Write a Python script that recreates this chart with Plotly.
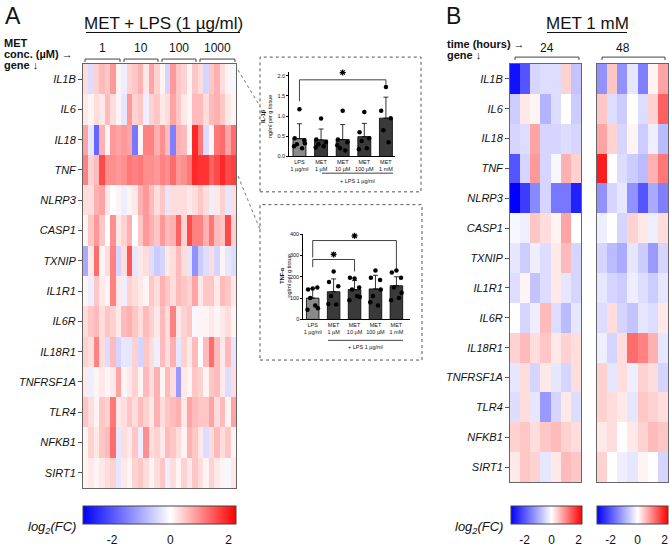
import plotly.graph_objects as go

W, H = 670, 548
def X(px): return px / W
def Y(py): return 1 - py / H

genes = ["IL1B", "IL6", "IL18", "TNF", "NLRP3", "CASP1", "TXNIP", "IL1R1",
         "IL6R", "IL18R1", "TNFRSF1A", "TLR4", "NFKB1", "SIRT1"]
conc_groups = ["1", "10", "100", "1000"]
time_groups = ["24", "48"]

# Panel A: log2(FC), 14 genes x 28 samples (7 per MET concentration)
A_IL1B = [0.3,-0.4,0.4,0.6,0.5,0.9,0.1,-0.2,0.4,0.5,0.7,0.2,0.8,0.4,0.1,-0.5,0.9,0.5,0.4,0.1,0.5,0.3,-0.5,0.5,0.7,0.3,0.1,-0.1]
A_IL6 = [0.2,0.1,0.3,0.2,0.6,0.3,0.1,-0.3,0.9,0.4,0.5,-0.2,0.4,0.5,0.2,0.3,0.8,0.5,0.2,0.1,0.6,0.6,0.3,0.6,0.7,0.5,0.2,0.1]
A_IL18 = [0.8,-0.3,-1.8,0.7,0.1,0.9,0.8,0.9,0.8,-1.6,0.1,1.1,1.1,0.7,1.0,0.6,-1.5,0.7,0.6,0.1,1.9,1.2,-0.4,0.1,1.2,1.3,0.8,1.3]
A_TNF = [1.1,0.4,0.6,1.6,1.0,1.0,0.9,1.0,1.2,1.1,1.2,1.0,1.0,0.9,1.1,1.0,1.3,0.9,1.0,1.2,1.9,1.8,1.8,1.4,1.6,1.9,1.6,1.7]
A_NLRP3 = [0.3,0.3,0.7,0.8,0.2,0.0,0.1,-0.2,0.1,0.2,0.7,0.9,0.6,0.3,0.5,-0.3,0.3,0.3,0.3,0.2,0.3,0.5,0.3,-0.2,0.2,0.4,-0.3,0.3]
A_CASP1 = [0.1,0.5,0.9,0.5,0.0,1.0,0.2,0.4,0.7,0.0,0.5,0.9,0.7,0.5,0.9,0.6,0.7,1.4,0.4,1.6,1.1,1.1,0.7,1.2,0.6,0.5,1.6,0.4]
A_TXNIP = [-1.0,0.2,1.3,0.1,0.3,1.1,-0.5,0.3,1.5,-0.3,0.2,0.3,-0.4,-0.6,-0.5,0.2,0.3,0.6,0.3,-0.3,-1.3,-0.6,-0.4,0.3,-0.5,0.1,-0.3,-0.4]
A_IL1R1 = [0.1,-0.2,0.5,0.2,0.1,1.1,0.2,-0.2,0.4,0.3,0.2,0.1,0.5,0.3,0.7,0.5,0.3,0.6,0.5,0.4,0.8,0.2,0.5,0.5,0.2,0.6,0.5,0.2]
A_IL6R = [0.3,0.5,0.6,0.3,0.5,0.4,0.2,0.6,0.7,0.5,0.3,0.6,0.4,0.2,0.6,0.3,1.1,0.2,0.4,0.5,-0.1,0.1,0.1,0.2,0.1,0.2,0.3,0.1]
A_IL18R1 = [0.4,0.3,1.1,0.3,-0.4,0.6,-0.5,-0.3,-0.3,0.4,-0.5,0.5,0.3,-0.2,0.6,0.3,0.7,-0.3,0.4,0.2,0.6,0.0,0.6,1.3,0.6,0.2,0.6,-0.3]
A_TNFRSF1A = [0.2,-0.2,0.1,0.2,0.1,0.2,0.8,0.1,0.2,0.4,0.1,0.6,0.3,0.7,0.1,0.6,0.3,-1.2,0.2,0.1,0.5,0.4,0.1,0.5,0.6,0.2,-0.4,0.3]
A_TLR4 = [0.5,0.3,0.1,0.5,0.4,1.2,0.2,0.3,0.5,0.3,0.6,0.4,0.2,0.7,0.3,0.5,0.6,0.7,0.2,0.8,0.6,0.5,0.5,0.8,0.3,0.6,0.1,0.8]
A_NFKB1 = [0.1,0.4,0.2,0.5,0.6,1.3,-0.3,0.3,0.2,0.5,-0.2,1.0,0.3,0.4,0.2,0.6,0.5,0.3,0.1,0.7,0.5,0.2,-0.4,0.3,0.6,0.3,0.5,0.1]
A_SIRT1 = [0.1,0.2,0.1,0.2,0.3,0.4,-0.3,0.2,0.1,0.4,0.5,0.3,0.1,0.3,0.5,-0.2,0.3,0.1,0.4,0.2,0.5,0.3,0.1,0.4,0.2,0.1,-0.1,0.2]

# Panel B: MET 1 mM, 24 h and 48 h, 7 samples each
B24_IL1B = [-2.8,-2.0,-0.5,-0.4,-0.4,0.4,-0.7]
B24_IL6 = [-0.6,0.2,0.1,-0.9,-0.4,0.0,-0.6]
B24_IL18 = [-0.5,-0.4,0.8,-0.5,-0.5,-0.4,-0.5]
B24_TNF = [-2.0,-0.5,0.9,-0.5,-0.1,0.7,0.4]
B24_NLRP3 = [-3.0,-2.3,-1.4,-0.5,-1.6,-1.6,-2.6]
B24_CASP1 = [-0.1,-0.2,0.5,0.3,0.1,0.8,0.0]
B24_TXNIP = [-0.3,-0.6,-0.2,-0.4,0.2,0.6,-0.5]
B24_IL1R1 = [-0.4,0.1,-0.7,-0.4,0.2,-0.3,-0.5]
B24_IL6R = [0.0,-0.5,-0.2,0.6,-0.4,-0.8,-0.3]
B24_IL18R1 = [0.4,0.6,0.3,0.5,0.2,0.4,0.3]
B24_TNFRSF1A = [-0.3,0.3,-0.5,0.2,-0.3,-0.5,0.3]
B24_TLR4 = [-0.4,0.3,-0.3,-1.2,-0.5,0.2,-0.4]
B24_NFKB1 = [0.4,0.5,0.3,0.5,0.6,0.4,0.3]
B24_SIRT1 = [0.2,0.5,0.4,-0.3,0.2,0.6,0.5]

B48_IL1B = [-1.3,0.5,-1.3,-0.3,-1.5,0.1,0.8]
B48_IL6 = [0.5,-0.4,-0.6,0.0,-0.4,0.4,1.4]
B48_IL18 = [0.8,0.4,-0.5,0.1,-0.6,-0.2,-0.8]
B48_TNF = [2.0,0.0,-0.4,-0.6,-0.8,0.7,1.2]
B48_NLRP3 = [-1.3,-0.5,-0.3,-1.3,-2.0,-1.0,-1.5]
B48_CASP1 = [-0.2,0.0,-0.5,0.4,0.2,-0.2,0.3]
B48_TXNIP = [-0.5,-0.8,-1.0,-0.3,-0.6,-1.2,-0.5]
B48_IL1R1 = [-0.3,-0.5,-0.6,-0.2,-0.4,-0.6,-0.3]
B48_IL6R = [-0.4,0.3,-0.5,-0.7,-0.3,-0.4,0.2]
B48_IL18R1 = [-0.2,-0.5,0.3,1.3,1.1,0.7,-0.3]
B48_TNFRSF1A = [0.4,-0.3,0.3,-0.2,0.4,0.3,-0.5]
B48_TLR4 = [0.4,0.3,0.2,-0.3,0.5,0.4,0.3]
B48_NFKB1 = [0.2,0.3,0.0,0.2,0.4,0.6,0.5]
B48_SIRT1 = [0.4,0.0,-0.2,-0.3,0.1,0.0,-0.5]

# Insets
bar_labels = ["LPS<br>1 µg/ml", "MET<br>1 µM", "MET<br>10 µM", "MET<br>100 µM", "MET<br>1 mM"]
il1b_mean = [0.44, 0.41, 0.42, 0.49, 0.95]
il1b_sd = [0.37, 0.27, 0.37, 0.33, 0.52]
il1b_pts = [[1.17,0.45,0.40,0.30,0.20,0.25,0.33],
            [0.94,0.42,0.35,0.30,0.25,0.22],
            [1.13,0.42,0.35,0.20,0.15,0.28],
            [1.10,0.60,0.45,0.38,0.20,0.18],
            [1.72,1.13,0.95,0.65,0.35]]
il1b_star_x, il1b_star_y = [2], [2.08]
tnf_mean = [100, 130, 140, 143, 158]
tnf_sd = [45, 60, 42, 64, 42]
tnf_pts = [[145,140,150,100,65,45,52],
           [225,175,155,110,70,72],
           [192,195,150,140,110,90,105],
           [230,195,185,110,65,80,140],
           [230,220,195,150,100,90,125]]
tnf_star_x, tnf_star_y = [1, 2], [305, 392]
jitter = [0.0, -0.22, 0.22, -0.12, 0.12, -0.25, 0.25]

cscale = [[0, "rgb(0,0,255)"], [3/5.25, "rgb(255,255,255)"], [1, "rgb(255,0,0)"]]
ZMIN, ZMAX = -3, 2.25

def rows(prefix):
    g = globals()
    return [g[prefix + n] for n in genes]

fig = go.Figure()
FONT = "Liberation Sans, Arial, sans-serif"

def cbar(cx, length):
    return dict(orientation="h", x=X(cx), xanchor="center", y=Y(511), yanchor="top",
                len=length, lenmode="pixels", thickness=18, thicknessmode="pixels",
                xpad=0, ypad=0, outlinewidth=1, outlinecolor="#444",
                tickvals=[-2, 0, 2], ticktext=["-2", "0", "2"], ticks="outside", ticklen=6,
                tickcolor="rgba(0,0,0,0)", tickfont=dict(size=12, color="#111", family=FONT))

fig.add_trace(go.Heatmap(z=rows("A_"), x=list(range(28)), y=genes, colorscale=cscale,
                         zmin=ZMIN, zmax=ZMAX, xaxis="x", yaxis="y",
                         colorbar=cbar(159.5, 153)))
fig.add_trace(go.Heatmap(z=rows("B24_"), x=list(range(7)), y=genes, colorscale=cscale,
                         zmin=ZMIN, zmax=ZMAX, xaxis="x2", yaxis="y2",
                         colorbar=cbar(546.5, 71)))
fig.add_trace(go.Heatmap(z=rows("B48_"), x=list(range(7)), y=genes, colorscale=cscale,
                         zmin=ZMIN, zmax=ZMAX, xaxis="x3", yaxis="y3",
                         colorbar=cbar(632.5, 71)))

bar_colors = ["#8a8a8a", "#3a3a3a", "#3a3a3a", "#3a3a3a", "#3a3a3a"]
for (mean, sd, pts, sx, sy, xa, ya) in [(il1b_mean, il1b_sd, il1b_pts, il1b_star_x, il1b_star_y, "x4", "y4"),
                                        (tnf_mean, tnf_sd, tnf_pts, tnf_star_x, tnf_star_y, "x5", "y5")]:
    fig.add_trace(go.Bar(x=list(range(5)), y=mean, width=0.6, marker=dict(color=bar_colors,
                         line=dict(color="black", width=0.8)),
                         error_y=dict(type="data", array=sd, arrayminus=[0]*5, symmetric=False,
                                      width=2.5, thickness=0.8, color="black"),
                         xaxis=xa, yaxis=ya, showlegend=False))
    px_, py_ = [], []
    for i, p in enumerate(pts):
        for j, v in enumerate(p):
            px_.append(i + jitter[j])
            py_.append(v)
    fig.add_trace(go.Scatter(x=px_, y=py_, mode="markers", marker=dict(color="black", size=4.5),
                             xaxis=xa, yaxis=ya, showlegend=False, cliponaxis=False))
    fig.add_trace(go.Scatter(x=sx, y=sy, mode="markers",
                             marker=dict(symbol="asterisk-open", size=5, color="black",
                                         line=dict(color="black", width=1.2)),
                             xaxis=xa, yaxis=ya, showlegend=False, cliponaxis=False))

hm_axis = dict(showline=True, mirror=True, linecolor="#666", linewidth=1, showgrid=False,
               zeroline=False)
yax_common = dict(hm_axis, autorange="reversed", ticks="outside", ticklen=4, tickcolor="#555",
                  tickfont=dict(size=11, color="#111", family=FONT, style="italic"))

layout = dict(
    width=W, height=H, margin=dict(l=0, r=0, t=0, b=0), paper_bgcolor="white",
    plot_bgcolor="white", showlegend=False, font=dict(family=FONT, color="#111"),
    xaxis=dict(hm_axis, domain=[X(83), X(236)], range=[-0.5, 27.5], showticklabels=False),
    yaxis=dict(yax_common, domain=[Y(493), Y(62)]),
    xaxis2=dict(hm_axis, domain=[X(510), X(581)], range=[-0.5, 6.5], showticklabels=False, anchor="y2"),
    yaxis2=dict(yax_common, domain=[Y(487), Y(62)], anchor="x2"),
    xaxis3=dict(hm_axis, domain=[X(597), X(668)], range=[-0.5, 6.5], showticklabels=False, anchor="y3"),
    yaxis3=dict(hm_axis, domain=[Y(487), Y(62)], anchor="x3", autorange="reversed", showticklabels=False),
)
inset_x = dict(showline=True, linecolor="black", linewidth=1, showgrid=False, zeroline=False,
               ticks="", tickmode="array", tickvals=list(range(5)), ticktext=bar_labels,
               tickfont=dict(size=5.5, color="#111", family=FONT))
inset_y = dict(showline=True, linecolor="black", linewidth=1, showgrid=False, zeroline=False,
               ticks="outside", ticklen=2, tickwidth=1, tickcolor="black",
               tickfont=dict(size=5.5, color="#111", family=FONT))
# IL-1b inset: range a little above 2.0 so the significance star fits; 2.0 stays at y=74 px
layout["xaxis4"] = dict(inset_x, domain=[X(289.3), X(395)], range=[-0.47, 4.42], anchor="y4")
layout["yaxis4"] = dict(inset_y, domain=[Y(156), Y(69.9)], range=[0, 2.1], anchor="x4",
                        tickvals=[0, 0.5, 1.0, 1.5, 2.0], ticktext=["0.0", "0.5", "1.0", "1.5", "2.0"])
layout["xaxis5"] = dict(inset_x, domain=[X(303.3), X(410)], range=[-0.45, 4.65], anchor="y5")
layout["yaxis5"] = dict(inset_y, domain=[Y(321.7), Y(235)], range=[0, 400], anchor="x5",
                        tickvals=[0, 100, 200, 300, 400])
fig.update_layout(**layout)

shapes, ann = [], []
def line(x0, y0, x1, y1, color="#222", width=1, dash=None):
    d = dict(type="line", xref="paper", yref="paper", x0=X(x0), y0=Y(y0), x1=X(x1), y1=Y(y1),
             line=dict(color=color, width=width))
    if dash: d["line"]["dash"] = dash
    shapes.append(d)
def text(x, y, s, size=12, xanchor="center", color="#111", **kw):
    ann.append(dict(xref="paper", yref="paper", x=X(x), y=Y(y), text=s, showarrow=False,
                    xanchor=xanchor, yanchor="middle", font=dict(size=size, color=color, family=FONT), **kw))

# panel letters and titles
text(3, 13, "A", size=23, xanchor="left")
text(444, 13, "B", size=23, xanchor="left")
text(163, 21, "MET + LPS (1 µg/ml)", size=17)
line(86, 30, 240, 30, color="#111", width=1)
text(587, 21, "MET 1 mM", size=17)
line(547, 30, 627, 30, color="#111", width=1)

# headers
text(2, 41, "<b>MET</b>", size=11, xanchor="left")
text(2, 52, "<b>conc. (µM) →</b>", size=11, xanchor="left")
text(2, 63, "<b>gene ↓</b>", size=11, xanchor="left")
text(445, 42, "<b>time (hours) →</b>", size=11, xanchor="left")
text(445, 53, "<b>gene ↓</b>", size=11, xanchor="left")

# group brackets
for lab, (a, b) in zip(conc_groups, [(85, 120), (124, 158), (162, 196), (200, 235)]):
    text((a + b) / 2, 46, lab, size=12)
    line(a, 57, b, 57, color="#444")
    line(a, 57, a, 60, color="#444")
    line(b, 57, b, 60, color="#444")
for lab, (a, b), lx in zip(time_groups, [(515, 579), (602, 665)], [547, 623]):
    text(lx, 46, lab, size=12)
    line(a, 55, b, 55, color="#444")
    line(a, 55, a, 58, color="#444")
    line(b, 55, b, 58, color="#444")

# colorbar labels
text(78, 533, "<i>log<sub>2</sub>(FC)</i>", size=13, xanchor="right")
text(505, 533, "<i>log<sub>2</sub>(FC)</i>", size=13, xanchor="right")

# inset boxes and connectors
for (x0, y0, x1, y1) in [(260, 55, 421, 192), (260, 205, 422, 363)]:
    shapes.append(dict(type="rect", xref="paper", yref="paper", x0=X(x0), y0=Y(y1), x1=X(x1), y1=Y(y0),
                       line=dict(color="#555", width=1, dash="dot")))
line(238, 68, 260, 105, color="#777", dash="dot")
line(238, 176, 260, 230, color="#777", dash="dot")

# inset titles, annotations
text(266, 116, "<b>IL-1β</b><br>ng/ml per g tissue", size=5.5, textangle=-90)
text(285, 278, "<b>TNF-α</b><br>ng/ml per g tissue", size=5.5, textangle=-90)
line(322, 173, 393, 173, color="#111", width=0.8)
text(357, 181, "+ LPS 1 µg/ml", size=5.5)
line(328, 343, 403, 343, color="#111", width=0.8)
text(365, 350, "+ LPS 1 µg/ml", size=5.5)

def dshape(xa, ya, pts):
    path = "M " + " L ".join(f"{a},{b}" for a, b in pts)
    shapes.append(dict(type="path", xref=xa, yref=ya, path=path, line=dict(color="#111", width=0.8)))
dshape("x4", "y4", [(0, 1.37), (0, 1.9), (4, 1.9), (4, 1.78)])
dshape("x5", "y5", [(0, 245), (0, 281), (2, 281), (2, 225)])
dshape("x5", "y5", [(0, 290), (0, 370), (4, 370), (4, 238)])

fig.update_layout(shapes=shapes, annotations=ann)
fig.write_html("out.html")
